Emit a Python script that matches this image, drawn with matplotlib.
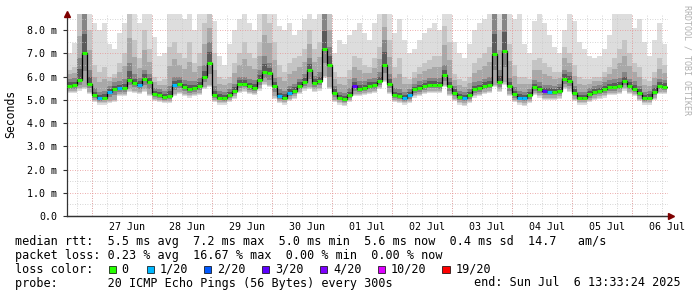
import matplotlib
matplotlib.use("Agg")
import matplotlib.pyplot as plt
import numpy as np
from matplotlib.patches import Rectangle

# 10 day smokeping graph, one value per 2h bin (120 bins)
med = [5.60, 5.63, 5.85, 7.00, 5.70, 5.20, 5.07, 5.10, 5.34, 5.45,
       5.50, 5.50, 5.85, 5.72, 5.65, 5.90, 5.75, 5.25, 5.23, 5.12,
       5.15, 5.65, 5.70, 5.55, 5.45, 5.50, 5.60, 6.00, 6.60, 5.20,
       5.10, 5.08, 5.20, 5.40, 5.68, 5.68, 5.58, 5.53, 5.85, 6.20,
       6.15, 5.60, 5.15, 5.10, 5.30, 5.40, 5.60, 5.78, 6.28, 5.72,
       5.80, 7.20, 6.50, 5.30, 5.10, 5.05, 5.20, 5.60, 5.47, 5.50,
       5.60, 5.63, 5.80, 6.50, 5.70, 5.22, 5.17, 5.08, 5.20, 5.45,
       5.50, 5.58, 5.65, 5.65, 5.63, 6.06, 5.60, 5.30, 5.12, 5.08,
       5.20, 5.45, 5.50, 5.60, 5.65, 6.97, 5.75, 7.12, 5.60, 5.25,
       5.10, 5.08, 5.20, 5.55, 5.45, 5.37, 5.35, 5.35, 5.40, 5.90,
       5.82, 5.30, 5.10, 5.10, 5.25, 5.35, 5.37, 5.45, 5.55, 5.55,
       5.60, 5.80, 5.60, 5.48, 5.30, 5.08, 5.10, 5.35, 5.60, 5.57]

# lost pings out of 20 per bin
loss = [0] * 120
for i in [6, 8, 10, 14, 21, 42, 44, 67, 68, 79, 90, 91, 96]:
    loss[i] = 1
for i in [57, 95]:
    loss[i] = 3

smoke_top = [7.0, 7.45, 8.7, 8.7, 8.7, 8.3, 8.0, 8.3, 7.4, 7.2,
             7.9, 8.3, 8.7, 8.7, 8.3, 8.7, 8.7, 7.7, 6.9, 7.0,
             8.7, 8.7, 8.7, 8.5, 8.7, 8.0, 8.7, 8.7, 8.7, 8.4,
             6.9, 6.5, 7.4, 8.0, 8.5, 8.7, 8.3, 8.0, 8.7, 8.7,
             8.7, 8.7, 8.2, 8.0, 8.3, 7.8, 8.0, 8.5, 8.7, 8.5,
             8.7, 8.7, 8.7, 7.0, 7.6, 7.4, 7.8, 8.0, 8.3, 7.9,
             7.6, 8.3, 8.7, 8.7, 8.7, 7.9, 8.5, 7.6, 7.0, 7.2,
             7.6, 7.9, 8.1, 8.3, 8.0, 8.7, 8.7, 7.5, 7.0, 6.8,
             7.4, 8.0, 8.3, 8.5, 8.7, 8.7, 8.7, 8.7, 8.7, 8.5,
             8.7, 7.4, 7.0, 8.4, 8.7, 8.3, 7.8, 7.3, 7.0, 8.0,
             8.7, 8.4, 7.5, 7.2, 6.9, 6.8, 6.9, 7.2, 7.8, 8.7,
             8.7, 8.7, 8.7, 8.1, 8.5, 7.5, 6.9, 7.6, 8.3, 7.4]

smoke_mid = [6.3, 6.4, 8.7, 8.7, 8.0, 6.5, 6.2, 6.4, 6.0, 6.1,
             6.6, 7.0, 8.7, 7.6, 6.8, 8.0, 7.2, 6.0, 5.8, 5.9,
             7.3, 7.5, 7.0, 6.8, 7.5, 6.6, 7.0, 8.3, 8.7, 7.0,
             6.0, 5.9, 6.0, 6.6, 7.0, 7.5, 7.0, 6.8, 7.5, 8.7,
             8.3, 7.5, 6.5, 6.2, 6.6, 6.8, 6.9, 7.2, 8.0, 7.2,
             7.5, 8.7, 8.7, 6.2, 6.0, 6.0, 6.3, 6.9, 6.8, 6.5,
             6.4, 6.8, 7.3, 8.7, 7.6, 6.4, 6.8, 6.0, 5.9, 6.2,
             6.4, 6.6, 6.7, 6.9, 6.9, 8.2, 7.5, 6.1, 5.9, 5.8,
             6.0, 6.6, 6.8, 7.0, 7.3, 8.7, 8.0, 8.7, 7.4, 6.5,
             6.0, 6.0, 5.9, 6.7, 6.8, 6.6, 6.4, 6.2, 6.2, 7.3,
             7.0, 6.5, 6.0, 5.9, 5.9, 6.0, 6.0, 6.2, 6.4, 6.8,
             7.2, 7.6, 7.0, 6.6, 6.4, 5.9, 5.8, 6.2, 6.8, 6.5]

smoke_dark = [5.9, 5.95, 6.8, 8.7, 6.3, 5.5, 5.35, 5.4, 5.6, 5.75,
              5.8, 5.9, 6.6, 6.1, 5.95, 6.3, 6.1, 5.5, 5.45, 5.4,
              5.6, 6.0, 6.0, 5.85, 5.8, 5.8, 5.95, 6.5, 7.5, 5.6,
              5.4, 5.35, 5.45, 5.7, 6.0, 6.0, 5.9, 5.85, 6.3, 6.9,
              6.6, 5.95, 5.45, 5.4, 5.6, 5.7, 5.9, 6.1, 6.8, 6.05,
              6.2, 8.7, 7.3, 5.6, 5.35, 5.3, 5.5, 5.95, 5.8, 5.8,
              5.9, 5.95, 6.2, 7.6, 6.1, 5.5, 5.45, 5.35, 5.45, 5.7,
              5.8, 5.85, 5.95, 5.95, 5.95, 6.5, 5.95, 5.6, 5.4, 5.35,
              5.45, 5.75, 5.8, 5.9, 6.0, 8.7, 6.3, 8.7, 5.95, 5.55,
              5.4, 5.35, 5.45, 5.85, 5.75, 5.65, 5.65, 5.6, 5.7, 6.3,
              6.2, 5.6, 5.35, 5.35, 5.5, 5.6, 5.65, 5.75, 5.85, 5.9,
              5.95, 6.2, 5.9, 5.8, 5.6, 5.35, 5.4, 5.65, 5.9, 5.85]

smoke_lo = [5.35, 5.35, 5.45, 5.5, 5.3, 4.95, 4.85, 4.85, 4.9, 4.95,
            5.2, 5.2, 5.4, 5.35, 5.3, 5.4, 5.2, 5.0, 4.95, 4.9,
            4.9, 5.2, 5.3, 5.2, 5.15, 5.2, 5.25, 5.5, 5.6, 4.95,
            4.85, 4.85, 4.95, 5.1, 5.35, 5.4, 5.3, 5.25, 5.45, 5.7,
            5.6, 5.1, 4.9, 4.85, 5.0, 5.1, 5.3, 5.45, 5.5, 5.4,
            5.45, 6.0, 5.5, 4.95, 4.85, 4.8, 4.95, 5.2, 5.2, 5.25,
            5.3, 5.35, 5.5, 5.8, 5.3, 4.95, 4.9, 4.85, 4.9, 5.15,
            5.2, 5.3, 5.35, 5.35, 5.35, 5.6, 5.2, 5.0, 4.85, 4.8,
            4.9, 5.15, 5.2, 5.3, 5.35, 5.6, 5.4, 5.7, 5.2, 4.95,
            4.85, 4.8, 4.9, 5.25, 5.15, 5.05, 5.05, 5.05, 5.1, 5.5,
            5.4, 5.0, 4.85, 4.85, 4.95, 5.05, 5.1, 5.15, 5.25, 5.25,
            5.3, 5.45, 5.3, 5.2, 5.0, 4.85, 4.85, 5.05, 5.3, 5.3]

day_labels = ["27 Jun", "28 Jun", "29 Jun", "30 Jun", "01 Jul",
              "02 Jul", "03 Jul", "04 Jul", "05 Jul", "06 Jul"]

loss_colors = {0: "#26ff00", 1: "#00b8ff", 2: "#0059ff", 3: "#5e00ff",
               4: "#7e00ff", 10: "#dd00ff", 19: "#ff0000"}
legend_loss = ["0", "1/20", "2/20", "3/20", "4/20", "10/20", "19/20"]
legend_keys = [0, 1, 2, 3, 4, 10, 19]

W, H = 697, 297
MONO = "DejaVu Sans Mono"


def px(x, y):
    return x / W, 1 - y / H


fig = plt.figure(figsize=(W / 100, H / 100), dpi=100)
fig.patch.set_facecolor("white")
ax = fig.add_axes([67 / W, 81 / H, 601 / W, 202 / H])

n = len(med)
edges = np.arange(n + 1) / 12.0  # days, 2h bins
ext = lambda a: np.append(np.asarray(a, float), a[-1])

lo = ext(smoke_lo)
top = ext(smoke_top)
mid = ext(smoke_mid)
dark = ext(smoke_dark)
m = ext(med)

# smoke, lightest outside, darker towards the median
ax.fill_between(edges, lo - 0.05, top, step="post", color="#dddddd", lw=0, zorder=1)
ax.fill_between(edges, lo, mid, step="post", color="#c4c4c4", lw=0, zorder=1.05)
ax.fill_between(edges, lo + 0.05, (mid + dark) / 2, step="post", color="#a8a8a8",
                lw=0, zorder=1.1)
ax.fill_between(edges, (lo + m) / 2, dark, step="post", color="#858585", lw=0, zorder=1.15)
ax.fill_between(edges, m - 0.05, (m + dark) / 2, step="post", color="#5a5a5a",
                lw=0, zorder=1.2)

# grid on top of smoke
for d in np.arange(10 / 60, 10.02, 0.25):
    ax.axvline(d, color="#c8c8c8", lw=0.6, ls=(0, (1, 2)), zorder=1.5)
for d in np.arange(25 / 60, 10.02, 1.0):
    ax.axvline(d, color="#e89090", lw=0.6, ls=(0, (1, 2)), zorder=1.6)
for v in np.arange(0.5, 8.7, 1.0):
    ax.axhline(v, color="#c8c8c8", lw=0.6, ls=(0, (1, 2)), zorder=1.5)
for v in range(1, 9):
    ax.axhline(v, color="#e89090", lw=0.6, ls=(0, (1, 2)), zorder=1.6)

# median: black connectors + loss coloured steps
ax.step(edges, m, where="post", color="black", lw=0.9, zorder=3)
seg_colors = [loss_colors[l] for l in loss]
ax.hlines(med, edges[:-1], edges[1:], colors=seg_colors, lw=2.2, zorder=4)

ax.set_xlim(0, 601 / 60)
ax.set_ylim(0, 8.7)
ax.set_xticks(np.arange(1, 11))
ax.set_xticklabels(day_labels)
ax.set_yticks(range(0, 9))
ax.set_yticklabels(["0.0"] + ["%.1f m" % v for v in range(1, 9)])
ax.tick_params(axis="x", length=0, pad=4, labelsize=7.2)
ax.tick_params(axis="y", length=3, width=0.8, pad=4, labelsize=7.2, color="#333333")
for lbl in ax.get_xticklabels() + ax.get_yticklabels():
    lbl.set_family(MONO)
for s in ["top", "right"]:
    ax.spines[s].set_visible(False)
for s in ["left", "bottom"]:
    ax.spines[s].set_color("#333333")
    ax.spines[s].set_linewidth(0.9)
ax.plot([0], [1.0], marker="^", ms=4, color="#7f0000", transform=ax.transAxes,
        clip_on=False, zorder=6)
ax.plot([1.005], [0], marker=">", ms=4, color="#7f0000", transform=ax.transAxes,
        clip_on=False, zorder=6)
ax.plot([0, 1.0], [0, 0], color="#333333", lw=0.9, transform=ax.transAxes,
        clip_on=False, zorder=5)

fig.text(*px(11, 114), "Seconds", rotation=90, ha="center", va="center",
         family=MONO, fontsize=8.3)
fig.text(*px(687, 60), "RRDTOOL / TOBI OETIKER", rotation=270, ha="center",
         va="center", family=MONO, fontsize=6, color="#b0b0b0")

fs = 8.5
fig.text(*px(15, 242), "median rtt:  5.5 ms avg  7.2 ms max  5.0 ms min  5.6 ms now"
         "  0.4 ms sd  14.7   am/s", family=MONO, fontsize=fs, va="center")
fig.text(*px(15, 255.5), "packet loss: 0.23 % avg  16.67 % max  0.00 % min  0.00 % now",
         family=MONO, fontsize=fs, va="center")
fig.text(*px(15, 269.5), "loss color:", family=MONO, fontsize=fs, va="center")
box_x = [108.7, 146.7, 204, 261.7, 320, 377.7, 442.3]
for bx, key, lab in zip(box_x, legend_keys, legend_loss):
    x0, y0 = px(bx, 273.3)
    fig.patches.append(Rectangle((x0, y0), 7.3 / W, 7.6 / H, transform=fig.transFigure,
                                 facecolor=loss_colors[key], edgecolor="black", lw=0.5))
    fig.text(*px(bx + 13, 269.5), lab, family=MONO, fontsize=fs, va="center")
fig.text(*px(15, 283), "probe:       20 ICMP Echo Pings (56 Bytes) every 300s",
         family=MONO, fontsize=fs, va="center")
fig.text(*px(681, 283), "end: Sun Jul  6 13:33:24 2025", family=MONO, fontsize=fs,
         va="center", ha="right")

fig.savefig("out.png", dpi=100)
